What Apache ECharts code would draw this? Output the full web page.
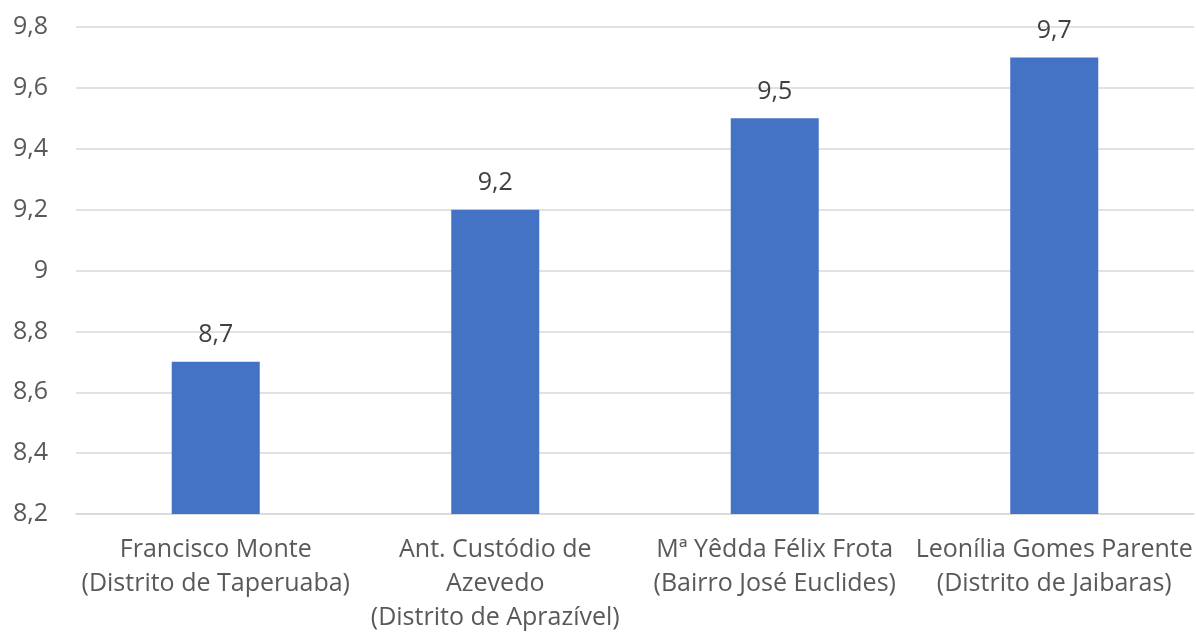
<!DOCTYPE html>
<html><head><meta charset="utf-8">
<script src="https://cdn.jsdelivr.net/npm/echarts@6/dist/echarts.min.js"></script>
<style>html,body{margin:0;padding:0;background:#fff}#c{width:1196px;height:632px}</style>
</head><body><div id="c"></div>
<script>
const categories = [
  "Francisco Monte\n(Distrito de Taperuaba)",
  "Ant. Custódio de\nAzevedo\n(Distrito de Aprazível)",
  "Mª Yêdda Félix Frota\n(Bairro José Euclides)",
  "Leonília Gomes Parente\n(Distrito de Jaibaras)"
];
const values = [8.7, 9.2, 9.5, 9.7];
const yMin = 8.2, yMax = 9.8, yStep = 0.2;

const fmt = v => {
  const r = Math.round(v * 10) / 10;
  return (Number.isInteger(r) ? String(r) : r.toFixed(1)).replace('.', ',');
};
const font = "'Open Sans', 'Noto Sans', sans-serif";
const chart = echarts.init(document.getElementById('c'), null, {renderer: 'canvas'});
chart.setOption({
  animation: false,
  grid: {left: 76, right: 2, top: 27, bottom: 118, containLabel: false, outerBoundsMode: 'none'},
  xAxis: {
    type: 'category',
    data: categories,
    axisLine: {show: true, lineStyle: {color: '#d9d9d9', width: 1.5}},
    axisTick: {show: false},
    axisLabel: {color: '#595959', fontFamily: font, fontSize: 25, lineHeight: 34, margin: 19, interval: 0}
  },
  yAxis: {
    type: 'value',
    min: yMin, max: yMax, interval: yStep,
    axisLine: {show: false},
    axisTick: {show: false},
    splitLine: {lineStyle: {color: '#d9d9d9', width: 1.5}},
    axisLabel: {color: '#595959', fontFamily: font, fontSize: 25, margin: 28, formatter: fmt}
  },
  series: [{
    type: 'bar',
    data: values,
    barWidth: 88,
    itemStyle: {color: '#4472c4'},
    label: {show: true, position: 'top', distance: 14, color: '#404040', fontFamily: font, fontSize: 25, formatter: p => fmt(p.value)}
  }]
});
</script></body></html>
